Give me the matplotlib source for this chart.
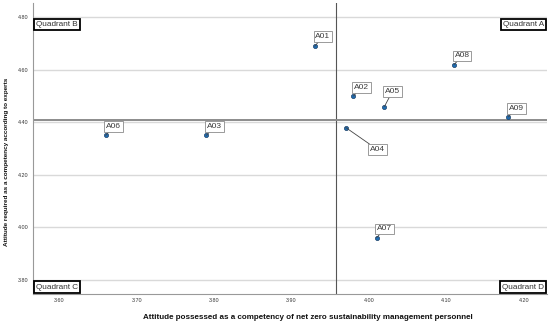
import matplotlib
matplotlib.use("Agg")
import matplotlib.pyplot as plt
import numpy as np

# ---- data ----
labels = ["A01", "A02", "A03", "A04", "A05", "A06", "A07", "A08", "A09"]
possessed = [3.93, 3.98, 3.79, 3.97, 4.02, 3.66, 4.01, 4.11, 4.18]
required = [4.69, 4.50, 4.35, 4.38, 4.46, 4.35, 3.96, 4.62, 4.42]
mean_possessed = 3.958
mean_required = 4.41
x_ticks = [3.60, 3.70, 3.80, 3.90, 4.00, 4.10, 4.20]
y_ticks = [3.80, 4.00, 4.20, 4.40, 4.60, 4.80]
quadrants = ["Quadrant A", "Quadrant B", "Quadrant C", "Quadrant D"]
x_title = "Attitude possessed as a competency of net zero sustainability management personnel"
y_title = "Attitude required as a competency according to experts"

plt.rcParams['font.family'] = ['Liberation Sans', 'DejaVu Sans']

fig = plt.figure(figsize=(5.5, 3.24), dpi=100)
ax = fig.add_axes([0.06, 0.0926, 0.9345, 0.8966])

ax.set_xlim(3.566, 4.230)
ax.set_ylim(3.745, 4.853)

# grid (horizontal only)
for yt in y_ticks:
    ax.axhline(yt, color='#d9d9d9', lw=1.0, zorder=0)

# reference lines at means
ax.axvline(mean_possessed, color='#555555', lw=0.8, zorder=1)
ax.axhline(mean_required, color='#8c8c8c', lw=1.4, zorder=1)

ax.scatter(possessed, required, s=9, color='#1f6db3', edgecolor='#1a3f66',
           linewidth=0.5, zorder=5)

# label offsets (points)
offsets = {"A04": (23, -16), "A05": (5.6, 10.6), "A01": (5.9, 7.0)}
for lab, x, y in zip(labels, possessed, required):
    off = offsets.get(lab, (5.8, 6.3))
    ax.annotate(lab, xy=(x, y), xytext=off, textcoords='offset points',
                ha='center', va='center', fontsize=6.0, color='#3a3a3a',
                bbox=dict(boxstyle='square,pad=0.22', fc='white', ec='#8a8a8a', lw=0.6),
                arrowprops=dict(arrowstyle='-', color='#444444', lw=0.6,
                                shrinkA=0, shrinkB=0), zorder=6)

# quadrant labels
qbox = dict(boxstyle='square,pad=0.25', fc='white', ec='black', lw=1.3)
qkw = dict(fontsize=5.9, color='#333333', bbox=qbox, zorder=7)
ax.text(0.994, 4.785, quadrants[0], transform=ax.get_yaxis_transform(),
        ha='right', va='top', **qkw)
ax.text(0.006, 4.785, quadrants[1], transform=ax.get_yaxis_transform(),
        ha='left', va='top', **qkw)
ax.text(0.006, 0.012, quadrants[2], transform=ax.transAxes,
        ha='left', va='bottom', **qkw)
ax.text(0.994, 0.012, quadrants[3], transform=ax.transAxes,
        ha='right', va='bottom', **qkw)

ax.set_xticks(x_ticks)
ax.set_xticklabels([f"{v:.2f}" for v in x_ticks])
ax.set_yticks(y_ticks)
ax.set_yticklabels([f"{v:.2f}" for v in y_ticks])
ax.tick_params(axis='both', length=0, labelsize=3.9, colors='#333333', pad=3)

for s in ['top', 'right']:
    ax.spines[s].set_visible(False)
for s in ['left', 'bottom']:
    ax.spines[s].set_color('#999999')
    ax.spines[s].set_linewidth(0.8)

ax.set_xlabel(x_title, fontsize=5.8, fontweight='bold', color='#111111')
ax.set_ylabel(y_title, fontsize=4.6, fontweight='bold', color='#111111')
ax.xaxis.set_label_coords(0.535, -0.07)
ax.yaxis.set_label_coords(-0.047, 0.455)

fig.savefig("out.png", dpi=100)
